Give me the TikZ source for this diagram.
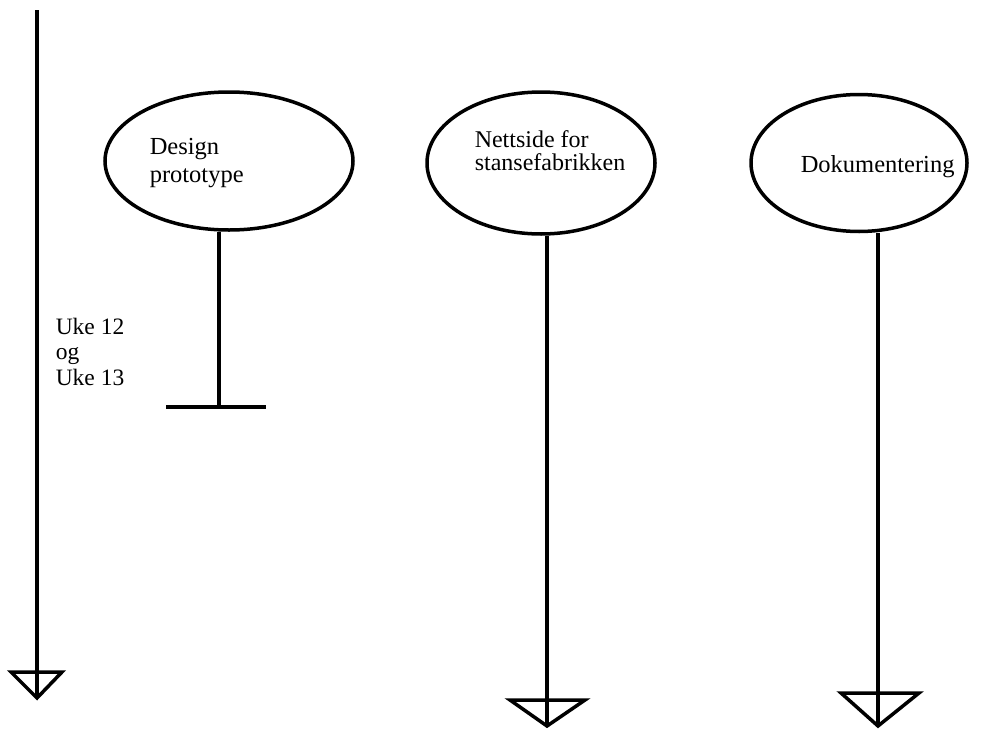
\documentclass[tikz,border=0pt]{standalone}
\usepackage{fontspec}
\setmainfont{Liberation Serif}
\usetikzlibrary{shapes.geometric}

\tikzset{
    bubble/.style={draw, ellipse, line width=3.5pt, inner sep=0pt},
    label text/.style={anchor=base west, align=left, inner sep=0pt},
    arrow head/.style={line width=3.5pt, line join=miter}
}

\begin{document}
\begin{tikzpicture}[x=1pt, y=-1pt, line width=3.5pt]
    \useasboundingbox (0,0) rectangle (987,728);

    % Time axis
    \coordinate (axisTop) at (37,10);
    \coordinate (axisTip) at (37,698);
    \draw (axisTop) -- (axisTip);
    \draw[arrow head] (axisTip) -- ++(-26,-26) -- ++(51,0) -- cycle;
    \node[label text, font=\fontsize{23.5}{25.5}\selectfont] (weeks) at (54,385) {Uke 12\\og\\Uke 13};

    % Design prototype
    \node[bubble, minimum width=248, minimum height=138] (design) at (229,161) {};
    \node[label text, font=\fontsize{24.5}{28}\selectfont] (designText) at (148,182) {Design\\prototype};
    \coordinate (designEnd) at (219,407);
    \draw (219,0 |- design.south) -- (designEnd);
    \draw (166,407) -- (designEnd) -- (266,407);

    % Nettside for stansefabrikken
    \node[bubble, minimum width=228, minimum height=142] (site) at (541,163) {};
    \node[label text, font=\fontsize{24}{23}\selectfont] (siteText) at (473,170) {Nettside for\\stansefabrikken};
    \coordinate (siteTip) at (547,726);
    \draw (547,0 |- site.south) -- (siteTip);
    \draw[arrow head] (siteTip) -- ++(-37,-26) -- ++(75,0) -- cycle;

    % Dokumentering
    \node[bubble, minimum width=216, minimum height=137] (docs) at (859,163) {};
    \node[label text, font=\fontsize{24.5}{26}\selectfont] (docsText) at (799,172) {Dokumentering};
    \coordinate (docsTip) at (878,726);
    \draw (878,0 |- docs.south) -- (docsTip);
    \draw[arrow head] (docsTip) -- ++(-37,-33) -- ++(78,0) -- cycle;
\end{tikzpicture}
\end{document}
